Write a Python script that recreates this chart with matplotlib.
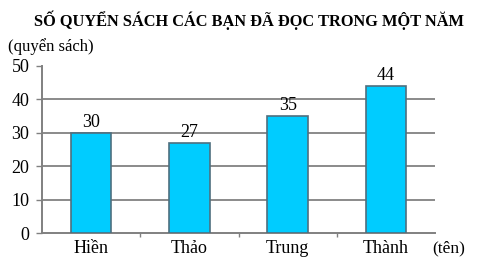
import matplotlib
matplotlib.use("Agg")
import matplotlib.pyplot as plt
import numpy as np

names = ["Hiền", "Thảo", "Trung", "Thành"]
values = [30, 27, 35, 44]
yticks = [0, 10, 20, 30, 40, 50]

plt.rcParams['font.family'] = ['Liberation Serif', 'DejaVu Serif']

fig = plt.figure(figsize=(4.91, 2.70), dpi=100)
ax = fig.add_axes([42/491, (270-233)/270, (435-42)/491, (233-66)/270])

x = np.arange(len(names))
ax.bar(x, values, width=0.41, color="#00CCFF", edgecolor="#4F6F7F", linewidth=1.2, zorder=3)
for xi, v in zip(x, values):
    ax.annotate(str(v), (xi, v), xytext=(0, 1.5), textcoords="offset points",
                ha="center", va="bottom", fontsize=13)

ax.set_xlim(-0.5, len(names) - 0.5)
ax.set_ylim(0, 50)
ax.set_yticks(yticks)
ax.set_yticklabels([str(t) for t in yticks], fontsize=13)
ax.set_xticks(x)
ax.set_xticklabels(names, fontsize=13)
ax.set_xticks(np.arange(len(names) - 1) + 0.5, minor=True)
ax.tick_params(axis="x", which="major", length=0, pad=5)
ax.tick_params(axis="x", which="minor", length=3, color="#808080", width=1)
ax.tick_params(axis="y", length=4, color="#808080", width=1, pad=5)

for t in yticks[1:-1]:
    ax.axhline(t, color="#8A8A8A", linewidth=1.4, zorder=1)

for s in ["top", "right"]:
    ax.spines[s].set_visible(False)
for s in ["left", "bottom"]:
    ax.spines[s].set_color("#808080")
    ax.spines[s].set_linewidth(1.4)

fig.text(0.508, 1 - 20/270, "SỐ QUYỂN SÁCH CÁC BẠN ĐÃ ĐỌC TRONG MỘT NĂM",
         ha="center", va="center", fontsize=11.8, fontweight="bold")
fig.text(8/491, 1 - 47/270, "(quyển sách)", ha="left", va="center", fontsize=12)
fig.text(432/491, 1 - 248/270, "(tên)", ha="left", va="center", fontsize=12.5)

fig.savefig("out.png", dpi=100)
